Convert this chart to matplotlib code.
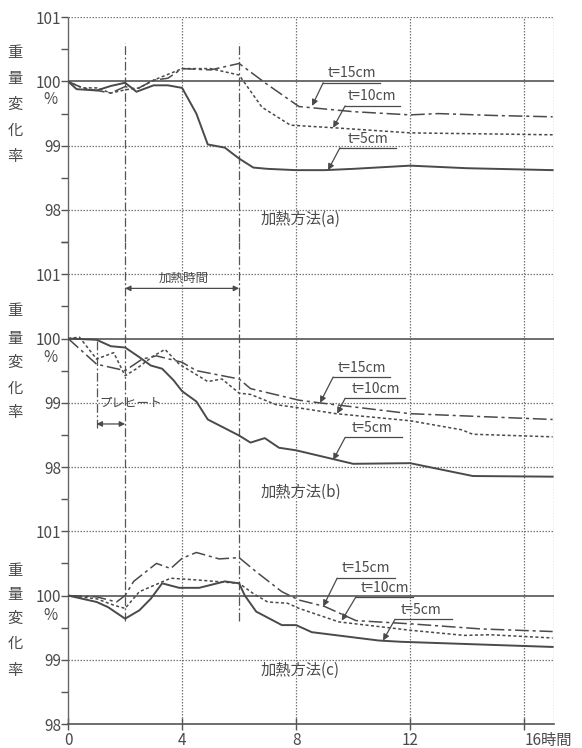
import matplotlib
matplotlib.use("Agg")
import matplotlib.pyplot as plt
from matplotlib.gridspec import GridSpec
from matplotlib import font_manager

_names = {f.name for f in font_manager.fontManager.ttflist}
_latin = 'Liberation Sans Narrow' if 'Liberation Sans Narrow' in _names else 'Noto Sans CJK JP'
plt.rcParams['font.family'] = [_latin, 'Noto Sans CJK JP', 'DejaVu Sans']
FS = 11 if _latin == 'Liberation Sans Narrow' else 10

# ---------------- data ----------------
# Panel (a)
a_x5 = [0, 0.3, 1, 1.5, 2, 2.4, 3, 3.5, 4, 4.5, 4.9, 5.5, 6, 6.5, 7, 8, 9, 10, 12, 14, 17]
a_y5 = [100, 99.88, 99.86, 99.93, 99.98, 99.84, 99.94, 99.94, 99.9, 99.5, 99.02, 98.97, 98.8, 98.66, 98.64, 98.62, 98.62, 98.64, 98.69, 98.65, 98.62]
a_x15 = [0, 0.5, 1, 1.5, 2, 2.4, 3, 3.5, 4, 5, 6, 7, 8.1, 10, 12, 13, 15, 17]
a_y15 = [100, 99.9, 99.86, 99.82, 99.92, 99.88, 100.02, 100.05, 100.2, 100.18, 100.28, 99.95, 99.61, 99.53, 99.48, 99.5, 99.47, 99.45]
a_x10 = [0, 0.5, 1, 1.5, 2, 2.5, 3, 4, 5, 5.5, 6, 6.8, 7.8, 9.3, 12, 17]
a_y10 = [100, 99.9, 99.9, 99.82, 99.87, 99.9, 100.02, 100.2, 100.2, 100.15, 100.1, 99.6, 99.32, 99.28, 99.2, 99.17]

# Panel (b)
b_x5 = [0, 1, 1.5, 2, 2.5, 2.9, 3.3, 3.7, 4, 4.5, 4.9, 6, 6.4, 6.9, 7.4, 8, 10, 12, 14.2, 17]
b_y5 = [100, 99.98, 99.88, 99.86, 99.71, 99.58, 99.53, 99.35, 99.18, 99.02, 98.74, 98.49, 98.38, 98.45, 98.3, 98.26, 98.05, 98.06, 97.86, 97.85]
b_x15 = [0, 1, 2, 2.6, 3.1, 4, 4.5, 6, 6.4, 8.1, 8.8, 12, 17]
b_y15 = [100, 99.6, 99.5, 99.68, 99.73, 99.63, 99.5, 99.37, 99.22, 99.04, 99.0, 98.83, 98.74]
b_x10 = [0, 0.4, 1, 1.6, 2, 2.4, 3, 3.4, 3.9, 4.9, 5.4, 6, 6.4, 7.3, 8.1, 9.4, 12, 13.8, 14.2, 17]
b_y10 = [100, 100.02, 99.68, 99.78, 99.42, 99.53, 99.73, 99.83, 99.6, 99.33, 99.37, 99.15, 99.13, 98.97, 98.92, 98.83, 98.72, 98.58, 98.51, 98.47]

# Panel (c)
c_x5 = [0, 1, 1.4, 2, 2.5, 2.9, 3.3, 3.9, 4.6, 5.5, 6, 6.2, 6.6, 7.5, 8, 8.55, 10.9, 11.7, 17]
c_y5 = [100, 99.9, 99.82, 99.64, 99.77, 99.95, 100.19, 100.12, 100.12, 100.22, 100.19, 100, 99.75, 99.54, 99.54, 99.43, 99.3, 99.28, 99.2]
c_x15 = [0, 1, 1.7, 2, 2.3, 3.1, 3.6, 4, 4.5, 5.3, 6, 6.6, 7.5, 8.1, 9, 10.1, 12, 14.5, 17]
c_y15 = [100, 99.98, 99.9, 100, 100.22, 100.5, 100.42, 100.58, 100.67, 100.57, 100.59, 100.37, 100.06, 99.93, 99.83, 99.61, 99.56, 99.48, 99.44]
c_x10 = [0, 1, 1.6, 2, 2.5, 3.6, 4.6, 6, 6.5, 7, 7.7, 8.1, 9.5, 12, 13.9, 14.8, 17]
c_y10 = [100, 99.95, 99.85, 99.8, 100.06, 100.27, 100.24, 100.19, 100.03, 99.9, 99.88, 99.8, 99.59, 99.46, 99.38, 99.39, 99.34]

x_ticks = [0, 4, 8, 12, 16]
x_tick_labels = ['0', '4', '8', '12', '16時間']
series_labels = ['t=15cm', 't=10cm', 't=5cm']
panel_titles = ['加熱方法(a)', '加熱方法(b)', '加熱方法(c)']
ylabel_chars = ['重', '量', '変', '化', '率']

# label annotations per panel: (text_xy, underline_x0, underline_x1, underline_y, arrow_tip)
annots = [
    [((9.1, 100.07), 8.95, 10.95, 99.98, (8.56, 99.62)),
     ((9.8, 99.71), 9.72, 11.65, 99.62, (9.3, 99.28)),
     ((9.8, 99.05), 9.54, 11.5, 98.97, (9.12, 98.62))],
    [((9.47, 99.48), 9.3, 11.3, 99.4, (8.84, 99.0)),
     ((9.96, 99.15), 9.72, 11.82, 99.07, (9.44, 98.83)),
     ((9.96, 98.55), 9.72, 11.72, 98.46, (9.3, 98.11))],
    [((9.6, 100.36), 9.44, 11.47, 100.27, (8.95, 99.83)),
     ((10.25, 100.06), 10.1, 12.1, 99.98, (9.6, 99.61)),
     ((11.65, 99.71), 11.47, 13.47, 99.63, (11.05, 99.3))],
]

col = '#4a4a4a'
ls15 = (0, (9, 2.5, 2, 2.5))
ls10 = (0, (2, 1.6))

fig = plt.figure(figsize=(5.82, 7.48), dpi=100)
gs = GridSpec(3, 1, figure=fig, height_ratios=[3.5, 4, 3.5], hspace=0,
              left=0.117, right=0.952, top=0.977, bottom=0.032)
axes = [fig.add_subplot(gs[i]) for i in range(3)]
ylims = [(97.5, 101), (97.5, 101.5), (98, 101.5)]
data = [
    ((a_x15, a_y15), (a_x10, a_y10), (a_x5, a_y5)),
    ((b_x15, b_y15), (b_x10, b_y10), (b_x5, b_y5)),
    ((c_x15, c_y15), (c_x10, c_y10), (c_x5, c_y5)),
]
minors = [[97.5, 98.5, 99.5, 100.5], [98.5, 99.5, 100.5, 101.5], [98.5, 99.5, 100.5, 101.5]]
majors = [[98, 99, 100, 101], [98, 99, 100, 101], [98, 99, 100, 101]]
dash_spans = [(97.5, 100.6), (97.5, 101.5), (99.6, 101.5)]

for i, ax in enumerate(axes):
    ax.set_xlim(0, 17.05)
    ax.set_ylim(*ylims[i])
    for s in ['top', 'right', 'bottom']:
        ax.spines[s].set_visible(False)
    ax.spines['left'].set_linestyle((0, (1.5, 1)))
    ax.spines['left'].set_color('#666666')
    ax.spines['left'].set_linewidth(1.0)
    ax.set_yticks(majors[i])
    ax.set_yticklabels([str(v) for v in majors[i]], fontsize=11, color=col)
    ax.set_yticks(minors[i], minor=True)
    ax.tick_params(axis='y', which='both', direction='out', length=5, width=1, color='#555555', pad=0)
    # horizontal grid
    for v in majors[i]:
        if v != 100 and not (i == 2 and v == 98):
            ax.axhline(v, color='#777777', lw=0.9, ls=(0, (1.2, 1.2)), zorder=1)
    ax.axhline(100, color='#555555', lw=1.2, zorder=2)
    # vertical grid
    for v in [4, 8, 12, 16, 17.05]:
        ax.axvline(v, color='#777777', lw=0.9, ls=(0, (1.2, 1.2)), zorder=1)
    # heating period markers
    y0, y1 = dash_spans[i]
    ax.vlines([2, 6], y0, y1, colors='#555555', lw=0.9, linestyles=[(0, (7, 2, 1.5, 2))], zorder=1)
    # series
    (x15, y15), (x10, y10), (x5, y5) = data[i]
    ax.plot(x15, y15, color=col, lw=1.1, ls=ls15, zorder=3)
    ax.plot(x10, y10, color=col, lw=1.1, ls=ls10, zorder=3)
    ax.plot(x5, y5, color=col, lw=1.4, zorder=3)
    # annotations
    for (txy, ux0, ux1, uy, tip), lab in zip(annots[i], series_labels):
        ax.text(txy[0], txy[1], lab, fontsize=FS, color=col, ha='left', va='baseline')
        ax.plot([ux0, ux1], [uy, uy], color=col, lw=0.9)
        ax.annotate('', xy=tip, xytext=(ux0, uy),
                    arrowprops=dict(arrowstyle='-|>', color=col, lw=0.9, mutation_scale=9,
                                    shrinkA=0, shrinkB=0))
    ax.set_xticks([])

# panel titles
axes[0].text(8.15, 97.86, panel_titles[0], fontsize=11, color=col, ha='center', va='center')
axes[1].text(8.15, 97.6, panel_titles[1], fontsize=11, color=col, ha='center', va='center')
axes[2].text(8.15, 98.84, panel_titles[2], fontsize=11, color=col, ha='center', va='center')

# bottom axis
axc = axes[2]
axc.spines['bottom'].set_visible(True)
axc.spines['bottom'].set_color('#555555')
axc.spines['bottom'].set_linewidth(1.2)
axc.set_xticks(x_ticks)
axc.set_xticklabels(x_tick_labels, fontsize=11, color=col)
axc.tick_params(axis='x', direction='inout', length=8, width=1, color='#555555', pad=2)
lbls = axc.get_xticklabels()
lbls[-1].set_horizontalalignment('left')
lbls[-1].set_x(15.8)

# heating time & preheat annotations (panel b)
axb = axes[1]
axb.annotate('', xy=(2, 100.78), xytext=(6, 100.78),
             arrowprops=dict(arrowstyle='<|-|>', color=col, lw=0.9, mutation_scale=8, shrinkA=0, shrinkB=0))
axb.text(4.05, 100.93, '加熱時間', fontsize=9, color=col, ha='center', va='center')
axb.vlines([1], 98.6, 100, colors='#555555', lw=0.9, linestyles=[(0, (7, 2, 1.5, 2))])
axb.annotate('', xy=(1, 98.67), xytext=(2, 98.67),
             arrowprops=dict(arrowstyle='<|-|>', color=col, lw=0.9, mutation_scale=8, shrinkA=0, shrinkB=0))
axb.text(1.1, 98.99, 'プレヒート', fontsize=9, color=col, ha='left', va='center')

# y labels (figure pixel positions)
H = 748.0
char_rows = [[53, 79, 104, 130, 156], [310, 338, 362, 388, 413], [570, 595, 618, 643, 670]]
pct_rows = [100, 357, 615]
for rows, py in zip(char_rows, pct_rows):
    for ch, y in zip(ylabel_chars, rows):
        fig.text(15 / 582, 1 - y / H, ch, fontsize=11, color=col, ha='center', va='center',
                 family=['Noto Sans CJK JP', 'DejaVu Sans'])
    fig.text(50 / 582, 1 - py / H, '%', fontsize=11, color=col, ha='center', va='center')

fig.savefig('out.png', dpi=100, facecolor='white')
